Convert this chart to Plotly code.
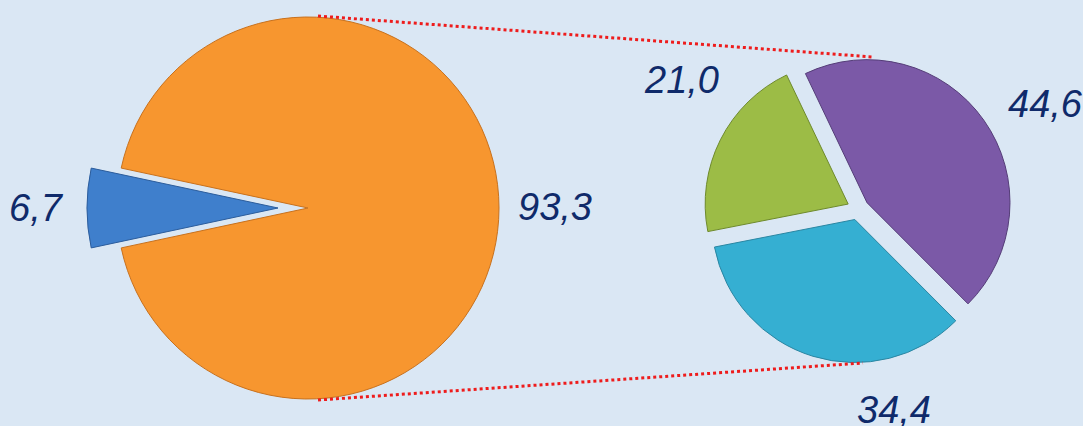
import plotly.graph_objects as go

# ---- data ----
left_labels = ["Сегмент 1", "Сегмент 2"]
left_values = [6.7, 93.3]
left_colors = ["#3f7fcc", "#f7962f"]

right_labels = ["Сегмент 3", "Сегмент 4", "Сегмент 5"]
right_values = [44.6, 34.4, 21.0]
right_colors = ["#7b59a7", "#35afd2", "#9cbc46"]

W, H = 1083, 426
BG = "#dae7f4"
TXT = "#0f2a6a"
TRANSP = "rgba(0,0,0,0)"


def dom(cx, cy, half):
    return dict(x=[(cx - half) / W, (cx + half) / W],
                y=[1 - (cy + half) / H, 1 - (cy - half) / H])


def fmt(v):
    return f"{v:.1f}".replace(".", ",")


fig = go.Figure()

# left pie: first slice centred at 9 o'clock
left_rot = 270 - left_values[0] / sum(left_values) * 360 / 2
R_LEFT = 191

# main (orange) part
fig.add_trace(go.Pie(
    labels=left_labels, values=left_values, sort=False, direction="clockwise",
    rotation=left_rot, textinfo="none", showlegend=False,
    marker=dict(colors=[TRANSP, left_colors[1]],
                line=dict(color=["rgba(0,0,0,0)", "#c8711d"], width=1)),
    domain=dom(308, 208, R_LEFT),
))
# exploded small slice (shifted left)
fig.add_trace(go.Pie(
    labels=left_labels, values=left_values, sort=False, direction="clockwise",
    rotation=left_rot, textinfo="none", showlegend=False,
    marker=dict(colors=[left_colors[0], TRANSP],
                line=dict(color=["#2c5d9c", "rgba(0,0,0,0)"], width=1)),
    domain=dom(278, 208, R_LEFT),
))

# right pie, all slices exploded
R_RIGHT = 143
PULL = 0.077
fig.add_trace(go.Pie(
    labels=right_labels, values=right_values, sort=False, direction="clockwise",
    rotation=334.5, textinfo="none", showlegend=False,
    pull=[PULL] * len(right_values),
    marker=dict(colors=right_colors,
                line=dict(color=["#553d78", "#2a86a2", "#6e8a2c"], width=1)),
    domain=dom(858, 209, R_RIGHT * (1 + PULL)),
))

# connector lines
for (x0, y0, x1, y1) in [(318, 16, 873, 57), (318, 400, 863, 363)]:
    fig.add_shape(type="line", xref="paper", yref="paper",
                  x0=x0 / W, y0=1 - y0 / H, x1=x1 / W, y1=1 - y1 / H,
                  line=dict(color="#ee1c1c", width=3, dash="dot"))

# value labels
left_pos = [(36, 208), (555, 207)]
right_pos = [(1045, 104), (894, 410), (681, 80)]
for v, (px, py) in list(zip(left_values, left_pos)) + list(zip(right_values, right_pos)):
    fig.add_annotation(x=px / W, y=1 - py / H, xref="paper", yref="paper",
                       xanchor="center", yanchor="middle",
                       text=fmt(v), showarrow=False,
                       font=dict(family="Liberation Sans, Arial", size=38,
                                 color=TXT, style="italic"))

fig.update_layout(
    width=W, height=H,
    margin=dict(l=0, r=0, t=0, b=0),
    paper_bgcolor=BG, plot_bgcolor=BG,
)

fig.write_html(
    "out.html",
    config={"displayModeBar": False},
    post_script=("document.body.style.margin='0';"
                 "document.body.style.overflow='hidden';"
                 f"document.body.style.background='{BG}';"),
)
